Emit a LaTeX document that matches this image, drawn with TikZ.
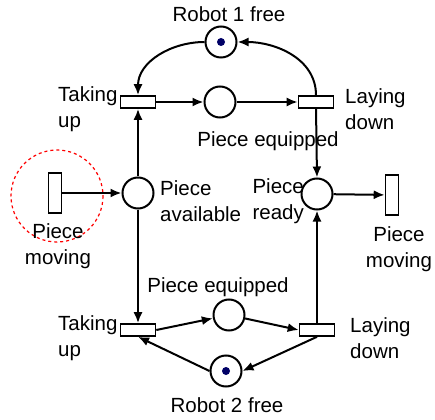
\documentclass[tikz,border=0pt]{standalone}
\usepackage{fontspec}
\setmainfont{Liberation Sans}
\usetikzlibrary{arrows.meta,positioning}

\begin{document}
\begin{tikzpicture}[
		x=1pt, y=-1pt,
		font=\fontsize{20.5}{26}\selectfont,
		>={Latex[length=11pt,width=9pt]},
		arc/.style={->, line width=2pt},
		place/.style={circle, draw, line width=2pt, fill=white, minimum size=31pt, inner sep=0pt},
		token/.style={circle, fill=blue!40!black, minimum size=8pt, inner sep=0pt},
		htrans/.style={draw, line width=1.6pt, fill=white, minimum width=35pt, minimum height=12pt, inner sep=0pt},
		vtrans/.style={draw, line width=1.6pt, fill=white, minimum width=13pt, minimum height=40pt, inner sep=0pt},
		tag/.style={align=left, inner sep=0pt},
	]
		\useasboundingbox (0,0) rectangle (435,419);

		% places
		\node [place] (robot a) at (221,42) {};
		\node [token] at (robot a) {};
		\node [place] (equip a) at (220,102) {};
		\node [place] (avail) at (138,193) {};
		\node [place] (ready) at (317,194) {};
		\node [place] (equip b) at (229,315) {};
		\node [place] (robot b) at (226,371) {};
		\node [token] at (robot b) {};

		% transitions
		\node [htrans] (take a) at (138,102) {};
		\node [htrans] (lay a) at (316,102) {};
		\node [htrans] (take b) at (138,330) {};
		\node [htrans] (lay b) at (317,330) {};
		\node [vtrans] (move in) at (55,193) {};
		\node [vtrans] (move out) at (392,195) {};

		\draw [red, dashed, line width=1.2pt, dash pattern=on 3pt off 3pt] (57,196) circle (46);

		% arcs
		\draw[arc] (robot a.west) to[out=180, in=90] (take a.north);
		\draw[arc] (lay a.north) to[out=90, in=0] (robot a.east);
		\draw[arc] (take a) -- (equip a);
		\draw[arc] (equip a) -- (lay a);
		\draw[arc] (lay a.south) -- (ready.north);
		\draw[arc] (avail) -- (take a);
		\draw[arc] (avail) -- (take b);
		\draw[arc] (move in) -- (avail);
		\draw[arc] (ready) -- (move out);
		\draw[arc] (take b.east) -- (equip b);
		\draw[arc] (equip b) -- (lay b.west);
		\draw[arc] (lay b.north) -- (ready.south);
		\draw[arc] (lay b.south) -- (robot b.east);
		\draw[arc] (robot b.west) -- (take b.south);

		% labels
		\node (robot a label) at (229,14) {Robot 1 free};
		\node [tag, anchor=west] (take a label) at (58,109) {Taking\\up};
		\node [tag, anchor=west] (lay a label) at (345,109) {Laying\\down};
		\node (equip a label) at (268,141) {Piece equipped};
		\node [tag, anchor=west] (avail label) at (160,201) {Piece\\available};
		\node [tag, anchor=east, align=right] (ready label) at (304,201) {Piece\\ready};
		\node [tag, align=center] (move in label) at (58,246) {Piece\\moving};
		\node [tag, align=center] (move out label) at (399,249) {Piece\\moving};
		\node (equip b label) at (218,287) {Piece equipped};
		\node [tag, anchor=west] (take b label) at (58,338) {Taking\\up};
		\node [tag, anchor=west] (lay b label) at (350,338) {Laying\\down};
		\node (robot b label) at (227,405) {Robot 2 free};
	\end{tikzpicture}
\end{document}
